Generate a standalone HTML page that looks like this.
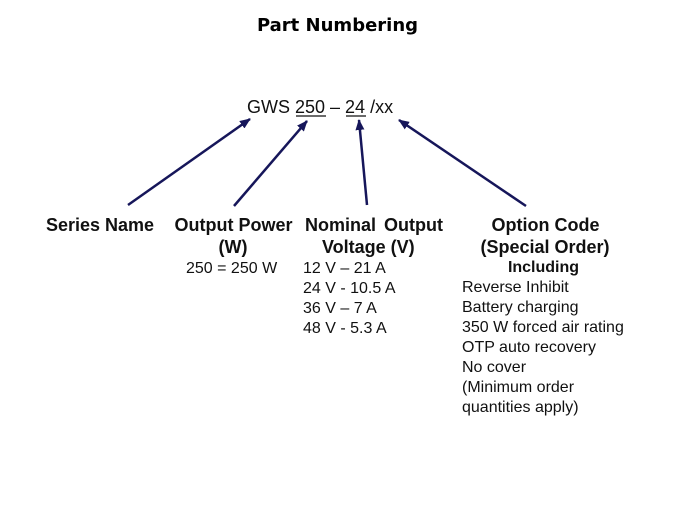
<!DOCTYPE html>
<html>
<head>
<meta charset="utf-8">
<style>
  html, body { margin: 0; padding: 0; background: #ffffff; }
  body { width: 675px; height: 506px; overflow: hidden; }
  svg { display: block; }
  .t { font-family: "Liberation Sans", Arial, sans-serif; fill: #111111; }
  .b { font-weight: bold; font-size: 18px; }
  .r { font-size: 16px; }
  .bi { font-weight: bold; font-size: 16px; }
</style>
</head>
<body>
<svg width="675" height="506" viewBox="0 0 675 506" xmlns="http://www.w3.org/2000/svg">
  <defs>
    <marker id="ah" markerWidth="11" markerHeight="9" refX="10" refY="4.5" orient="auto" markerUnits="userSpaceOnUse">
      <path d="M0,0 L11,4.5 L0,9 z" fill="#16165a"/>
    </marker>
  </defs>

  <!-- Title -->
  <text x="337.5" y="31" text-anchor="middle" style="font-family:'DejaVu Sans', Verdana, sans-serif;font-weight:bold;font-size:18px;fill:#000;">Part Numbering</text>

  <!-- Part number -->
  <text class="t" x="247" y="113" style="font-size:18px;">GWS 250 – 24 /xx</text>
  <line x1="296" y1="116" x2="326" y2="116" stroke="#111" stroke-width="1.3"/>
  <line x1="346" y1="116" x2="366" y2="116" stroke="#111" stroke-width="1.3"/>

  <!-- Arrows -->
  <g stroke="#16165a" stroke-width="2.5" fill="none">
    <line x1="128" y1="205" x2="250" y2="119" marker-end="url(#ah)"/>
    <line x1="234" y1="206" x2="307" y2="121" marker-end="url(#ah)"/>
    <line x1="367" y1="205" x2="359" y2="120" marker-end="url(#ah)"/>
    <line x1="526" y1="206" x2="399" y2="120" marker-end="url(#ah)"/>
  </g>

  <!-- Series Name -->
  <text class="t b" x="46" y="231">Series Name</text>

  <!-- Output Power -->
  <text class="t b" x="233.5" y="231" text-anchor="middle">Output Power</text>
  <text class="t b" x="233" y="253" text-anchor="middle">(W)</text>
  <text class="t r" x="186" y="273">250 = 250 W</text>

  <!-- Nominal Output Voltage -->
  <text class="t b" x="305" y="231" style="word-spacing:3px;">Nominal Output</text>
  <text class="t b" x="322" y="253">Voltage (V)</text>
  <text class="t r" x="303" y="273">12 V – 21 A</text>
  <text class="t r" x="303" y="293">24 V - 10.5 A</text>
  <text class="t r" x="303" y="313">36 V – 7 A</text>
  <text class="t r" x="303" y="333">48 V - 5.3 A</text>

  <!-- Option Code -->
  <text class="t b" x="545.5" y="231" text-anchor="middle">Option Code</text>
  <text class="t b" x="545" y="253" text-anchor="middle">(Special Order)</text>
  <text class="t bi" x="543.5" y="272" text-anchor="middle">Including</text>
  <text class="t r" x="462" y="292">Reverse Inhibit</text>
  <text class="t r" x="462" y="312">Battery charging</text>
  <text class="t r" x="462" y="332">350 W forced air rating</text>
  <text class="t r" x="462" y="352">OTP auto recovery</text>
  <text class="t r" x="462" y="372">No cover</text>
  <text class="t r" x="462" y="392">(Minimum order</text>
  <text class="t r" x="462" y="412">quantities apply)</text>
</svg>
</body>
</html>
